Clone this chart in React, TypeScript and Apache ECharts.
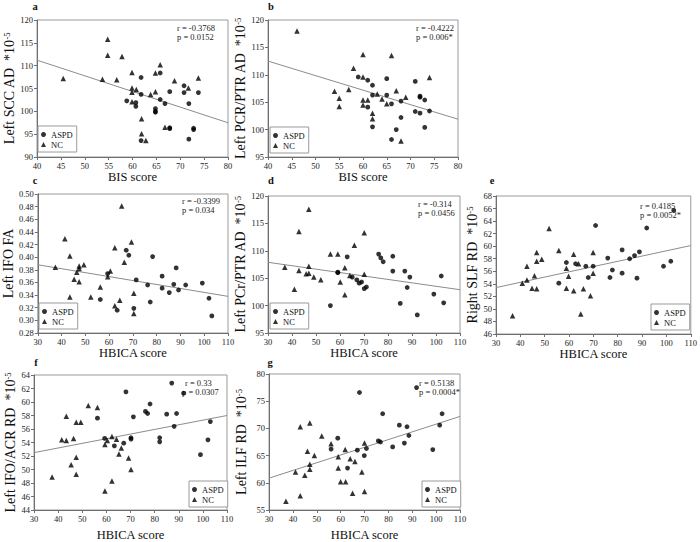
import React, { useEffect, useRef } from 'react';
import * as echarts from 'echarts';

const FONT = 'Liberation Serif, Times New Roman, serif';

// ---------- data ----------
// panel a: BIS score vs Left SCC AD
const aASPD = [[58.8,102.3],[60.7,101.9],[60.7,101.1],[61.8,107.4],[61.8,103.7],[61.8,93.6],[64.8,100.6],[64.8,100.0],[64.8,99.8],[65.8,108.4],[65.8,102.6],[66.8,101.7],[67.8,104.3],[67.8,96.4],[67.8,96.2],[70.8,105.6],[70.8,104.1],[71.8,101.7],[71.8,93.9],[72.8,96.3],[72.8,96.0],[73.8,104.1]];
const aNC = [[45.5,107.2],[54.8,115.8],[54.8,112.3],[57.8,112.0],[53.7,107.0],[56.7,106.9],[59.9,108.5],[59.9,105.1],[59.9,104.2],[59.9,102.1],[60.8,104.8],[61.9,98.4],[61.9,95.1],[62.8,93.6],[63.8,103.7],[64.8,108.4],[64.8,104.3],[65.8,110.2],[66.8,96.5],[68.8,106.7],[71.7,105.1],[73.8,107.3]];
const aFit = [[40,111.2],[80,97.5]];

// panel b: BIS score vs Left PCR/PTR AD
const bASPD = [[59,109.6],[61,109.0],[61,104.1],[62,108.1],[62,106.3],[62,100.5],[65,109.3],[65,106.3],[66,104.7],[66,98.2],[67,100.0],[68,105.2],[68,102.2],[71,108.8],[71,103.3],[72,106.1],[72,105.9],[72,103.0],[73,105.4],[73,100.4],[74,103.4]];
const bNC = [[46.1,118.0],[54,107.0],[55,105.7],[55,104.2],[57,107.3],[58,111.2],[60,113.7],[60,109.6],[60,105.4],[60,104.5],[61,105.4],[62,103.0],[62,102.0],[63,106.5],[64,105.6],[65,104.7],[66,113.5],[67,107.1],[68,97.9],[69,105.9],[74,109.5]];
const bFit = [[40,112.5],[80,101.9]];

// panel c: HBICA score vs Left IFO FA
const cASPD = [[56.3,0.333],[59.4,0.374],[63.4,0.316],[67.2,0.411],[68.3,0.403],[70.4,0.319],[71.4,0.364],[76.2,0.356],[77.3,0.329],[78.3,0.401],[82.3,0.370],[82.3,0.351],[85.3,0.344],[87.2,0.357],[88.2,0.383],[89.2,0.348],[92.2,0.356],[99.2,0.359],[102,0.335],[103.2,0.307]];
const cNC = [[37.4,0.384],[41.4,0.429],[43.5,0.402],[43.5,0.337],[45.3,0.365],[46.4,0.376],[47.4,0.386],[47.4,0.382],[47.4,0.361],[49.4,0.388],[52.3,0.337],[56.3,0.353],[59.4,0.369],[60.5,0.378],[62.4,0.415],[62.4,0.323],[64.5,0.332],[65.3,0.481],[66.4,0.392],[69.4,0.424],[70.4,0.343],[70.4,0.311]];
const cFit = [[30,0.388],[110,0.338]];

// panel d: HBICA score vs Left PCr/PTR AD
const dASPD = [[56,100.0],[59.1,106.1],[59.1,106.0],[63,108.9],[65.1,105.2],[67,104.7],[68,104.1],[69,104.3],[70.1,103.1],[71,103.4],[76.1,109.4],[77,108.7],[78,108.0],[82,109.0],[82,106.3],[85.1,100.4],[87,106.3],[88,103.3],[89.1,105.2],[92.2,98.3],[99.1,102.1],[102.2,105.4],[103.2,100.5]];
const dNC = [[37,107.0],[41,103.0],[42.9,113.5],[42.9,106.4],[45,98.0],[45.9,105.8],[47,117.6],[47,107.2],[47,105.9],[49.1,105.2],[52,104.7],[56,109.4],[59.1,109.4],[60.1,104.3],[62,106.9],[62,102.0],[64.1,105.5],[66,111.0],[70.1,113.3],[70.1,105.7]];
const dFit = [[30,107.9],[110,102.9]];

// panel e: HBICA score vs Right SLF RD
const eASPD = [[55.8,54.1],[58.9,57.4],[62.7,57.2],[66.9,56.8],[67.9,55.0],[69.9,56.8],[70.9,63.3],[75.9,58.1],[76.8,55.0],[77.8,56.2],[81.8,59.4],[81.8,55.7],[84.9,58.0],[86.9,58.5],[87.9,54.9],[88.9,59.1],[91.9,62.9],[98.8,56.8],[101.8,57.6],[103,65.7]];
const eNC = [[36.8,48.9],[40.8,54.1],[42.7,56.8],[42.7,54.6],[44.8,53.3],[45.8,55.3],[46.7,59.0],[46.7,57.6],[46.7,53.2],[48.8,57.9],[51.8,62.8],[55.8,59.3],[58.9,56.5],[58.9,53.3],[59.8,55.2],[61.9,58.7],[61.9,52.9],[63.9,57.2],[64.8,49.2],[65.9,53.2],[68.8,52.1],[69.9,59.0],[69.9,55.7]];
const eFit = [[30,53.4],[110,60.1]];

// panel f: HBICA score vs Left IFO/ACR RD
const fASPD = [[56.3,57.6],[59.3,54.6],[63.3,53.5],[67.2,53.9],[68.1,61.5],[70.2,54.7],[70.2,54.5],[71.2,57.8],[76.2,58.6],[77.1,58.3],[78.1,59.7],[82.1,54.7],[82.1,54.1],[85,58.2],[87.1,62.8],[88.1,56.4],[89.1,58.3],[92,61.3],[99,52.2],[102.1,54.4],[103.1,57.1]];
const fNC = [[37.5,48.9],[41.5,54.4],[43.4,57.9],[43.4,54.3],[45.4,50.7],[46.4,54.6],[47.5,57.0],[47.5,51.8],[47.5,49.3],[49.4,57.0],[52.5,59.5],[56.3,59.2],[59.4,53.7],[59.4,46.8],[60.4,54.3],[62.3,54.9],[62.3,48.3],[64.2,54.5],[65.2,52.3],[66.2,53.2],[69.2,51.7],[70.2,50.0]];
const fFit = [[30,52.5],[110,58.0]];

// panel g: HBICA score vs Left ILF RD
const gASPD = [[56,66.2],[58.8,68.2],[62.9,62.7],[67,66.0],[67.9,76.6],[69.9,65.0],[70.8,66.3],[75.8,67.7],[76.7,67.5],[77.6,72.7],[81.8,66.6],[84.6,70.6],[86.7,67.3],[87.8,70.3],[88.6,68.7],[91.8,77.5],[98.6,66.1],[101.5,70.6],[102.5,72.7]];
const gNC = [[37.1,56.6],[41.1,62.0],[43.1,70.3],[43.1,57.6],[45,61.4],[46.1,65.8],[47.1,71.0],[47.1,63.4],[47.1,62.5],[49,65.0],[52.1,68.6],[56,67.2],[59,64.8],[59,62.7],[60,60.2],[61.9,66.1],[62.1,60.2],[64,64.4],[65,58.1],[66,63.9],[68.9,62.0],[70,67.3],[70,58.4]];
const gFit = [[30,60.85],[110,72.2]];

const panelLetters = ['a', 'b', 'c', 'd', 'e', 'f', 'g'];
const xNames = ['BIS score', 'BIS score', 'HBICA score', 'HBICA score', 'HBICA score', 'HBICA score', 'HBICA score'];
const yNames = ['Left SCC AD', 'Left PCR/PTR AD', 'Left IFO FA', 'Left PCr/PTR AD', 'Right SLF RD', 'Left IFO/ACR RD', 'Left ILF RD'];
const yScaled = [true, true, false, true, true, true, true];
const xMins = [40, 40, 30, 30, 30, 30, 30];
const xMaxs = [80, 80, 110, 110, 110, 110, 110];
const xSteps = [5, 5, 10, 10, 10, 10, 10];
const yMins = [90, 95, 0.28, 95, 46, 44, 55];
const yMaxs = [120, 120, 0.5, 120, 68, 64, 80];
const ySteps = [5, 5, 0.02, 5, 2, 2, 5];
const rTexts = ['r = -0.3768', 'r = -0.4222', 'r = -0.3399', 'r = -0.314', 'r = 0.4185', 'r = 0.33', 'r = 0.5138'];
const pTexts = ['p = 0.0152', 'p = 0.006*', 'p = 0.034', 'p = 0.0456', 'p = 0.0052*', 'p = 0.0307', 'p = 0.0004*'];
const aspdSets = [aASPD, bASPD, cASPD, dASPD, eASPD, fASPD, gASPD];
const ncSets = [aNC, bNC, cNC, dNC, eNC, fNC, gNC];
const fitSets = [aFit, bFit, cFit, dFit, eFit, fFit, gFit];
const legendNames = ['ASPD', 'NC'];

// ---------- layout (pixels) ----------
const layout = [
  { left: 37, top: 20, width: 191, height: 137, yGap: 18, xGap: 12, title: [35, 6], r: [177, 28], p: [177, 37], legend: [38, 126] },
  { left: 268, top: 20, width: 190, height: 137, yGap: 19, xGap: 12, title: [271, 6], r: [416, 28], p: [416, 37], legend: [270, 127] },
  { left: 34, top: 194, width: 194, height: 139, yGap: 15, xGap: 13, title: [35, 180], r: [182, 201], p: [182, 210], legend: [39, 303] },
  { left: 268, top: 196, width: 192, height: 137, yGap: 20, xGap: 13, title: [271, 180], r: [418, 204], p: [418, 213], legend: [270, 303] },
  { left: 496, top: 196, width: 195, height: 138, yGap: 14, xGap: 13, title: [492, 180], r: [640, 206], p: [640, 215], legend: [651, 304] },
  { left: 34, top: 375, width: 193, height: 136, yGap: 17, xGap: 18, title: [36, 362], r: [185, 383], p: [182, 392], legend: [189, 481] },
  { left: 269, top: 374, width: 191, height: 137, yGap: 21, xGap: 18, title: [270, 362], r: [419, 383], p: [419, 392], legend: [422, 481] },
];

const AXIS_COLOR = '#6f6f6f';

function buildOption() {
  const grid: any[] = [];
  const xAxis: any[] = [];
  const yAxis: any[] = [];
  const series: any[] = [];
  const legend: any[] = [];
  const graphic: any[] = [];

  layout.forEach((L, i) => {
    grid.push({
      left: L.left, top: L.top, width: L.width, height: L.height,
      show: true, borderColor: '#9a9a9a', borderWidth: 1, backgroundColor: 'transparent',
    });
    xAxis.push({
      gridIndex: i, type: 'value', min: xMins[i], max: xMaxs[i], interval: xSteps[i],
      name: xNames[i], nameLocation: 'middle', nameGap: L.xGap,
      nameTextStyle: { fontFamily: FONT, fontSize: 12.5, color: '#111' },
      axisLine: { show: true, onZero: false, lineStyle: { color: AXIS_COLOR, width: 1 } },
      axisTick: { show: true, length: 3, lineStyle: { color: AXIS_COLOR } },
      axisLabel: { fontFamily: FONT, fontSize: 8.5, color: '#222', margin: 4 },
      splitLine: { show: false },
    });
    yAxis.push({
      gridIndex: i, type: 'value', min: yMins[i], max: yMaxs[i], interval: ySteps[i],
      name: yScaled[i] ? yNames[i] + '  *10{sup|-5}' : yNames[i],
      nameLocation: 'middle', nameGap: L.yGap, nameRotate: 90,
      nameTextStyle: {
        fontFamily: FONT, fontSize: 14, color: '#111',
        rich: { sup: { fontFamily: FONT, fontSize: 8.5, color: '#111', verticalAlign: 'top', lineHeight: 14 } },
      },
      axisLine: { show: true, onZero: false, lineStyle: { color: AXIS_COLOR, width: 1 } },
      axisTick: { show: true, length: 3, lineStyle: { color: AXIS_COLOR } },
      axisLabel: {
        fontFamily: FONT, fontSize: 8.5, color: '#222', margin: 4,
        formatter: (v: number) => (ySteps[i] < 1 ? v.toFixed(2) : String(Math.round(v))),
      },
      splitLine: { show: false },
    });
    series.push({
      type: 'line', name: 'fit-' + panelLetters[i], xAxisIndex: i, yAxisIndex: i,
      data: fitSets[i], symbol: 'none', silent: true, z: 1,
      lineStyle: { color: '#8c8c8c', width: 1 },
    });
    series.push({
      type: 'scatter', name: 'ASPD', xAxisIndex: i, yAxisIndex: i,
      data: aspdSets[i], symbol: 'circle', symbolSize: 4.8, z: 3,
      itemStyle: { color: '#000' },
    });
    series.push({
      type: 'scatter', name: 'NC', xAxisIndex: i, yAxisIndex: i,
      data: ncSets[i], symbol: 'triangle', symbolSize: 5.5, z: 3,
      itemStyle: { color: '#000' },
    });
    legend.push({
      left: L.legend[0], top: L.legend[1], orient: 'vertical',
      data: legendNames, selectedMode: false,
      itemWidth: 5, itemHeight: 5, itemGap: 1,
      padding: [4, 4, 3, 3],
      borderColor: '#9a9a9a', borderWidth: 1, backgroundColor: '#fff',
      textStyle: { fontFamily: FONT, fontSize: 8.5, color: '#111', lineHeight: 9 },
    });
    graphic.push({
      type: 'text', x: L.title[0], y: L.title[1],
      style: { text: panelLetters[i], fontFamily: FONT, fontSize: 10.5, fontWeight: 'bold', fill: '#111', align: 'center', verticalAlign: 'middle' },
    });
    graphic.push({
      type: 'text', x: L.r[0], y: L.r[1],
      style: { text: rTexts[i], fontFamily: FONT, fontSize: 8.5, fill: '#222', align: 'left', verticalAlign: 'middle' },
    });
    graphic.push({
      type: 'text', x: L.p[0], y: L.p[1],
      style: { text: pTexts[i], fontFamily: FONT, fontSize: 8.5, fill: '#222', align: 'left', verticalAlign: 'middle' },
    });
  });

  return {
    animation: false,
    backgroundColor: '#fff',
    textStyle: { fontFamily: FONT },
    grid, xAxis, yAxis, series, legend, graphic,
  };
}

export default function App() {
  const ref = useRef<HTMLDivElement>(null);
  useEffect(() => {
    document.body.style.margin = '0';
    if (!ref.current) return;
    const chart = echarts.init(ref.current, null, { renderer: 'svg' });
    chart.setOption(buildOption() as any);
    return () => chart.dispose();
  }, []);
  return <div ref={ref} style={{ width: 700, height: 542, background: '#fff' }} />;
}
